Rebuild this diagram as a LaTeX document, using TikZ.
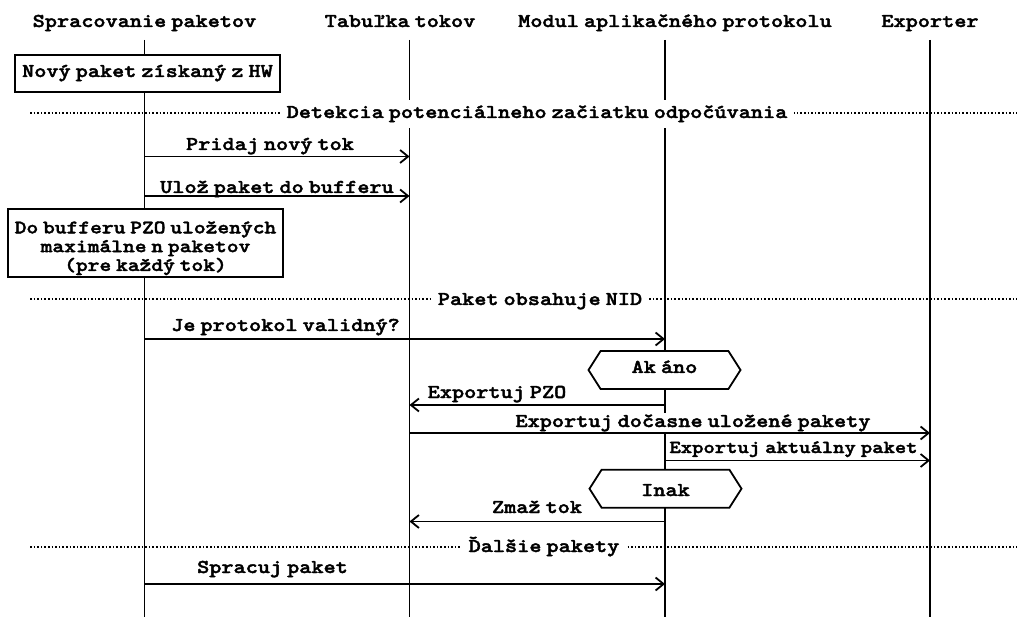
\documentclass[tikz,border=0pt]{standalone}
\usepackage{fontspec}
\newfontfamily\monob{lmmonolt10-bold.otf}[FakeStretch=1.18,FakeBold=2]
\usetikzlibrary{arrows.meta,shapes.symbols}
\newcommand\mfont{\monob\fontsize{19.6}{20}\selectfont\spaceskip=5pt\relax}
\newcommand\mfontb{\monob\fontsize{19}{18.8}\selectfont\spaceskip=4.8pt\relax}
\newcommand\mfonts{\monob\fontsize{18.3}{18}\selectfont\spaceskip=5pt\relax}
\begin{document}
\begin{tikzpicture}[x=1pt,y=-1pt,
  life/.style={line width=1.8pt},
  msg/.style={line width=1.8pt,-{Straight Barb[length=8pt,width=13pt,line width=1.8pt]}},
  hdr/.style={font=\mfont,anchor=base,inner sep=0pt},
  lbl/.style={font=\mfont,anchor=base,inner xsep=0.5pt,inner ysep=2pt,fill=white},
  divline/.style={line width=2pt,dash pattern=on 1.6pt off 2pt},
  divlbl/.style={lbl,inner xsep=7pt,inner ysep=6pt},
  boxnode/.style={draw,line width=1.8pt,fill=white,inner sep=0pt,font=\mfont},
  hexnode/.style={draw,line width=1.8pt,fill=white,shape=signal,signal to=west and east,
     signal pointer angle=115,minimum width=152pt,minimum height=38pt,inner sep=0pt,
     font=\mfont}
]
\useasboundingbox (0,0) rectangle (1017,617);
\fill[white] (0,0) rectangle (1017,617);

% headers
\node[hdr] (h1) at (144.5,27) {Spracovanie paketov};
\node[hdr] (h2) at (400,27) {Tabuľka tokov};
\node[hdr] (h3) at (675,27) {Modul aplikačného protokolu};
\node[hdr] (h4) at (930,27) {Exporter};

% lifelines
\coordinate (L1) at (144.5,40); \coordinate (L1b) at (144.5,617);
\coordinate (L2) at (409.5,40); \coordinate (L2b) at (409.5,617);
\coordinate (L3) at (665,40);   \coordinate (L3b) at (665,617);
\coordinate (L4) at (930,40);   \coordinate (L4b) at (930,617);
\draw[life] (L1) -- (L1b);
\draw[life] (L2) -- (L2b);
\draw[life] (L3) -- (L3b);
\draw[life] (L4) -- (L4b);

% dividers
\coordinate (D1l) at (30,113);   \coordinate (D1r) at (1017,113);
\coordinate (D2l) at (30,299.5); \coordinate (D2r) at (1017,299.5);
\coordinate (D3l) at (30,547);   \coordinate (D3r) at (1017,547);
\draw[divline] (D1l) -- (D1r);
\draw[divline] (D2l) -- (D2r);
\draw[divline] (D3l) -- (D3r);
\node[divlbl] (d1) at (537,118) {Detekcia potenciálneho začiatku odpočúvania};
\node[divlbl] (d2) at (540,305) {Paket obsahuje NID};
\node[divlbl] (d3) at (544,552) {Ďalšie pakety};

% boxes
\node[boxnode,minimum width=265pt,minimum height=37pt,text height=11pt,text depth=4pt]
  (b1) at (147.5,73.5) {Nový paket získaný z HW};
\node[boxnode,minimum width=275pt,minimum height=68pt,align=center,font=\mfontb]
  (b2) at (145.5,243) {\parbox{270pt}{\centering\rule{0pt}{22.5pt}Do bufferu PZO uložených\\maximálne n paketov\\(pre každý tok)}};

% alternatives
\node[hexnode,text height=10pt,text depth=4pt] (x1) at (664.5,370) {Ak áno};
\node[hexnode,text height=18pt,text depth=3.4pt] (x2) at (665.5,488.7) {Inak};

% message labels
\node[lbl] (m1) at (270,150) {Pridaj nový tok};
\node[lbl] (m2) at (277,193) {Ulož paket do bufferu};
\node[lbl] (m3) at (285.5,331) {Je protokol validný?};
\node[lbl] (m4) at (497,398) {Exportuj PZO};
\node[lbl] (m5) at (693,427) {Exportuj dočasne uložené pakety};
\node[lbl,fill=none,font=\mfonts] (m6) at (793.5,453) {Exportuj aktuálny paket};
\node[lbl] (m7) at (537,513) {Zmaž tok};
\node[lbl] (m8) at (272.5,573) {Spracuj paket};

% messages
\draw[msg] (L1 |- 0,156.5) -- (L2 |- 0,156.5);
\draw[msg] (L1 |- 0,196) -- (L2 |- 0,196);
\draw[msg] (L1 |- 0,339) -- (L3 |- 0,339);
\draw[msg] (L3 |- 0,405) -- (L2 |- 0,405);
\draw[msg] (L2 |- 0,433) -- (L4 |- 0,433);
\draw[msg] (L3 |- 0,460.5) -- (L4 |- 0,460.5);
\draw[msg] (L3 |- 0,521.5) -- (L2 |- 0,521.5);
\draw[msg] (L1 |- 0,584) -- (L3 |- 0,584);
\end{tikzpicture}
\end{document}
